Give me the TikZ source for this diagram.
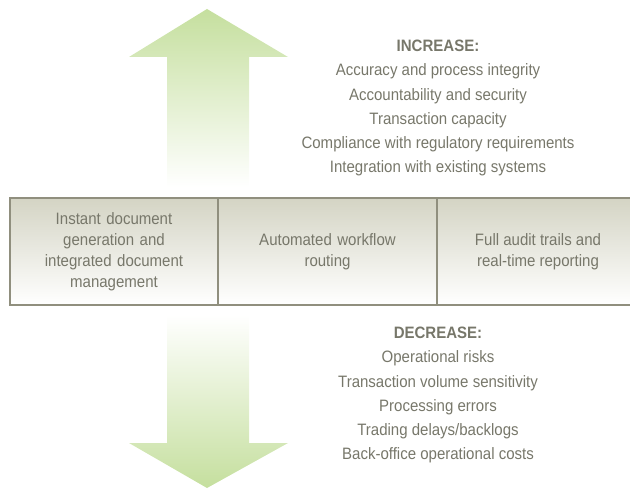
\documentclass[tikz,border=0pt]{standalone}
\usepackage{fontspec}
\setmainfont{Liberation Sans}[FakeStretch=0.91]
\usetikzlibrary{positioning}

\definecolor{txtgrey}{HTML}{77776A}
\definecolor{bargrey}{HTML}{D4D4C4}
\definecolor{barline}{HTML}{908F7E}
\definecolor{leafgreen}{HTML}{C5DF9E}

\begin{document}
\begin{tikzpicture}[x=1pt, y=1pt,
				cell/.style={draw=barline, rectangle, line width=1.2pt,%
                minimum height=107pt, outer sep=0pt, inner sep=0pt,
                top color=bargrey, bottom color=white, text=txtgrey,
                font=\fontsize{16.5}{21}\selectfont, align=center, anchor=center},
                % Define styles for the lists
   				list/.style={text=txtgrey, align=center, inner sep=0pt, anchor=north,
                font=\fontsize{16.5}{24.2}\selectfont},
    			up arrow/.style={top color=leafgreen, bottom color=white, draw=none},
    			down arrow/.style={top color=white, bottom color=leafgreen, draw=none}
    			]
\useasboundingbox (0,0) rectangle (630,488);

%% Arrows
\shade[up arrow] (207,479) -- (288,431) -- (249,431) -- (249,301) -- (167,301)
  -- (167,431) -- (129,431) -- cycle;
\shade[down arrow] (167,173) -- (249,173) -- (249,45) -- (288,45) -- (207,0)
  -- (129,45) -- (167,45) -- cycle;

%% Bar with the three cells
\node (docs) at (114,236.5) [cell, minimum width=208pt, text width=200pt]
  {Instant document\\ generation and\\ integrated document\\ management};
\node (route) [cell, right=0pt of docs, minimum width=219pt, text width=210pt]
  {Automated workflow\\ routing};
\node (audit) [cell, right=0pt of route, minimum width=213pt] {};
\node (audittxt) at (538,236.5) [text=txtgrey, align=center, inner sep=0pt,
  font=\fontsize{16.5}{21}\selectfont] {Full audit trails and\\ real-time reporting};

%% Lists
\node (incr) at (438,448) [list] {\textbf{INCREASE:}\\
  Accuracy and process integrity\\ Accountability and security\\
  Transaction capacity\\ Compliance with regulatory requirements\\
  Integration with existing systems};
\node (decr) at (438,161) [list] {\textbf{DECREASE:}\\
  Operational risks\\ Transaction volume sensitivity\\ Processing errors\\
  Trading delays/backlogs\\ Back-office operational costs};

\end{tikzpicture}
\end{document}
